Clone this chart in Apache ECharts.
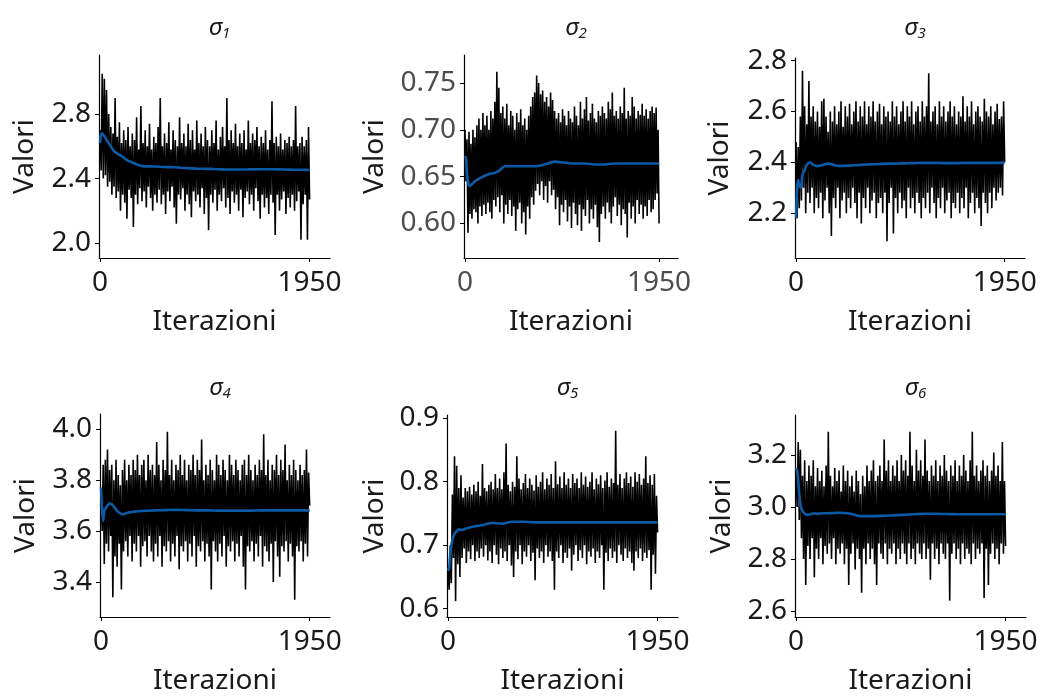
<!DOCTYPE html>
<html>
<head>
<meta charset="utf-8">
<script src="https://cdn.jsdelivr.net/npm/echarts@6/dist/echarts.min.js"></script>
<style>
html,body{margin:0;padding:0;background:#fff;}
#chart{width:1043px;height:696px;}
</style>
</head>
<body>
<div id="chart"></div>
<script>
// ---------- data ----------
const subscripts = ['1', '2', '3', '4', '5', '6'];
const xTickLabels = [0, 1950];
const lastIteration = 1950;

const yTicks1 = [2.0, 2.4, 2.8];
const yTicks2 = [0.60, 0.65, 0.70, 0.75];
const yTicks3 = [2.2, 2.4, 2.6, 2.8];
const yTicks4 = [3.4, 3.6, 3.8, 4.0];
const yTicks5 = [0.6, 0.7, 0.8, 0.9];
const yTicks6 = [2.6, 2.8, 3.0, 3.2];

// iterations at which the running mean was read
const meanIter = [0,10,20,30,45,60,80,100,130,160,200,250,300,350,400,500,600,700,800,900,1000,1100,1200,1300,1400,1500,1600,1700,1800,1950];

const mean1 = [2.62,2.68,2.68,2.67,2.66,2.64,2.62,2.60,2.57,2.555,2.54,2.515,2.50,2.485,2.477,2.475,2.472,2.47,2.465,2.462,2.46,2.458,2.456,2.456,2.457,2.458,2.458,2.456,2.455,2.454];
const mean2 = [0.672,0.670,0.652,0.645,0.640,0.641,0.643,0.645,0.647,0.649,0.651,0.653,0.654,0.657,0.661,0.661,0.661,0.661,0.663,0.666,0.665,0.664,0.664,0.663,0.663,0.664,0.664,0.664,0.664,0.664];
const mean3 = [2.18,2.30,2.33,2.31,2.30,2.35,2.37,2.39,2.40,2.39,2.385,2.39,2.395,2.39,2.386,2.387,2.39,2.392,2.394,2.395,2.396,2.397,2.398,2.398,2.397,2.397,2.398,2.398,2.398,2.398];
const mean4 = [3.77,3.68,3.64,3.68,3.69,3.70,3.708,3.705,3.69,3.675,3.665,3.672,3.676,3.678,3.679,3.681,3.682,3.683,3.682,3.681,3.681,3.680,3.680,3.680,3.680,3.681,3.681,3.681,3.681,3.681];
const mean5 = [0.660,0.665,0.685,0.700,0.712,0.718,0.722,0.725,0.724,0.726,0.728,0.730,0.731,0.733,0.735,0.734,0.737,0.737,0.736,0.736,0.736,0.736,0.736,0.736,0.736,0.736,0.736,0.736,0.736,0.736];
const mean6 = [3.15,3.14,3.10,3.05,3.00,2.985,2.975,2.970,2.972,2.975,2.974,2.976,2.976,2.977,2.978,2.975,2.965,2.965,2.966,2.968,2.970,2.972,2.974,2.974,2.973,2.972,2.972,2.972,2.972,2.972];

// thinned chain traces (one value every 10 iterations, 0..1950)
const trace1 = [
2.70,2.45,3.05,2.40,3.02,2.42,2.95,2.35,2.80,2.38,
2.72,2.30,2.68,2.35,2.90,2.28,2.66,2.32,2.75,2.20,
2.62,2.30,2.70,2.25,2.64,2.15,2.72,2.33,2.60,2.28,
2.68,2.10,2.64,2.30,2.78,2.24,2.58,2.34,2.85,2.26,
2.62,2.32,2.70,2.22,2.60,2.35,2.74,2.28,2.58,2.20,
2.66,2.30,2.62,2.25,2.72,2.33,2.90,2.24,2.60,2.30,
2.68,2.18,2.62,2.32,2.75,2.26,2.58,2.35,2.70,2.22,
2.64,2.12,2.60,2.30,2.78,2.27,2.62,2.34,2.68,2.20,
2.60,2.30,2.74,2.24,2.64,2.16,2.70,2.32,2.58,2.26,
2.76,2.30,2.62,2.22,2.68,2.34,2.60,2.18,2.72,2.28,
2.64,2.08,2.60,2.30,2.70,2.25,2.62,2.33,2.76,2.20,
2.58,2.30,2.66,2.26,2.72,2.34,2.60,2.22,2.90,2.28,
2.64,2.18,2.70,2.32,2.62,2.25,2.74,2.30,2.60,2.20,
2.68,2.33,2.62,2.16,2.70,2.28,2.58,2.32,2.76,2.24,
2.62,2.30,2.68,2.20,2.64,2.34,2.72,2.26,2.60,2.15,
2.66,2.30,2.62,2.22,2.70,2.28,2.58,2.18,2.64,2.30,
2.88,2.25,2.62,2.05,2.66,2.30,2.60,2.20,2.68,2.27,
2.58,2.32,2.64,2.18,2.62,2.28,2.66,2.22,2.60,2.30,
2.64,2.20,2.85,2.26,2.60,2.32,2.62,2.02,2.66,2.24,
2.60,2.30,2.64,2.02,2.72,2.27];
const trace2 = [
0.700,0.645,0.690,0.590,0.698,0.610,0.685,0.605,0.700,0.615,
0.692,0.612,0.705,0.600,0.712,0.618,0.700,0.608,0.718,0.620,
0.705,0.610,0.715,0.622,0.700,0.612,0.720,0.605,0.712,0.625,
0.730,0.618,0.762,0.628,0.745,0.612,0.718,0.630,0.725,0.600,
0.712,0.620,0.728,0.610,0.705,0.625,0.720,0.608,0.715,0.618,
0.700,0.592,0.718,0.615,0.708,0.622,0.722,0.600,0.705,0.612,
0.712,0.588,0.700,0.618,0.715,0.605,0.725,0.628,0.735,0.620,
0.740,0.635,0.758,0.642,0.750,0.630,0.738,0.645,0.742,0.625,
0.730,0.640,0.735,0.622,0.725,0.645,0.740,0.630,0.732,0.636,
0.720,0.615,0.712,0.628,0.718,0.598,0.708,0.620,0.722,0.612,
0.715,0.625,0.705,0.602,0.720,0.618,0.712,0.595,0.708,0.622,
0.725,0.610,0.715,0.598,0.705,0.620,0.730,0.592,0.712,0.615,
0.722,0.608,0.735,0.625,0.710,0.600,0.718,0.615,0.728,0.605,
0.712,0.620,0.708,0.596,0.720,0.580,0.715,0.610,0.725,0.618,
0.718,0.605,0.712,0.622,0.730,0.612,0.722,0.600,0.740,0.618,
0.715,0.628,0.720,0.608,0.712,0.620,0.725,0.598,0.718,0.615,
0.745,0.610,0.712,0.585,0.720,0.622,0.715,0.605,0.735,0.618,
0.725,0.600,0.712,0.625,0.720,0.610,0.716,0.620,0.728,0.605,
0.715,0.618,0.722,0.608,0.712,0.625,0.720,0.612,0.725,0.615,
0.718,0.625,0.724,0.632,0.700,0.600];
const trace3 = [
2.48,2.18,2.46,2.22,2.58,2.25,2.76,2.30,2.62,2.20,
2.55,2.28,2.72,2.24,2.58,2.30,2.62,2.20,2.56,2.26,
2.60,2.22,2.54,2.28,2.64,2.18,2.65,2.25,2.58,2.30,
2.52,2.20,2.60,2.11,2.56,2.26,2.62,2.22,2.55,2.30,
2.60,2.18,2.64,2.25,2.54,2.28,2.62,2.20,2.58,2.26,
2.63,2.22,2.55,2.30,2.60,2.24,2.64,2.18,2.56,2.28,
2.62,2.16,2.58,2.26,2.64,2.22,2.55,2.30,2.62,2.20,
2.58,2.25,2.64,2.28,2.56,2.18,2.60,2.24,2.63,2.26,
2.55,2.20,2.62,2.28,2.58,2.09,2.60,2.24,2.56,2.30,
2.64,2.12,2.58,2.26,2.62,2.20,2.55,2.28,2.60,2.22,
2.64,2.25,2.56,2.18,2.62,2.30,2.58,2.22,2.64,2.26,
2.55,2.20,2.60,2.28,2.62,2.24,2.56,2.18,2.64,2.26,
2.58,2.22,2.62,2.28,2.75,2.20,2.56,2.30,2.60,2.24,
2.62,2.18,2.55,2.26,2.64,2.22,2.58,2.30,2.62,2.20,
2.56,2.25,2.60,2.28,2.64,2.18,2.58,2.24,2.62,2.22,
2.55,2.28,2.60,2.20,2.58,2.26,2.66,2.22,2.56,2.30,
2.62,2.18,2.58,2.24,2.64,2.28,2.55,2.20,2.60,2.26,
2.62,2.22,2.58,2.15,2.56,2.28,2.65,2.24,2.60,2.20,
2.58,2.28,2.62,2.22,2.55,2.30,2.60,2.25,2.63,2.28,
2.57,2.30,2.58,2.27,2.64,2.40];
const trace4 = [
3.77,3.60,3.86,3.47,3.88,3.55,3.92,3.52,3.84,3.58,
3.86,3.34,3.80,3.50,3.88,3.46,3.82,3.55,3.78,3.37,
3.84,3.52,3.88,3.56,3.80,3.50,3.86,3.58,3.82,3.48,
3.88,3.55,3.84,3.52,3.90,3.58,3.82,3.46,3.86,3.54,
3.88,3.56,3.80,3.50,3.90,3.58,3.84,3.52,3.86,3.48,
3.82,3.55,3.95,3.50,3.86,3.58,3.80,3.46,3.88,3.54,
3.84,3.52,3.99,3.56,3.82,3.48,3.88,3.55,3.80,3.50,
3.86,3.58,3.84,3.45,3.90,3.54,3.82,3.52,3.88,3.56,
3.80,3.48,3.86,3.55,3.84,3.50,3.90,3.58,3.82,3.46,
3.88,3.54,3.84,3.52,3.96,3.56,3.80,3.48,3.86,3.55,
3.82,3.50,3.88,3.37,3.84,3.56,3.80,3.52,3.90,3.48,
3.86,3.55,3.82,3.50,3.88,3.58,3.84,3.46,3.80,3.54,
3.90,3.52,3.86,3.56,3.82,3.48,3.88,3.55,3.84,3.50,
3.80,3.58,3.86,3.46,3.88,3.37,3.82,3.54,3.90,3.52,
3.84,3.56,3.80,3.48,3.86,3.55,3.82,3.50,3.88,3.58,
3.84,3.46,3.98,3.54,3.82,3.52,3.88,3.48,3.80,3.55,
3.86,3.40,3.84,3.56,3.90,3.50,3.82,3.42,3.88,3.54,
3.84,3.52,3.94,3.56,3.80,3.48,3.86,3.55,3.82,3.50,
3.88,3.33,3.84,3.54,3.80,3.52,3.86,3.56,3.82,3.48,
3.84,3.55,3.92,3.50,3.83,3.70];
const trace5 = [
0.660,0.630,0.700,0.640,0.780,0.680,0.840,0.612,0.825,0.670,
0.790,0.650,0.810,0.680,0.775,0.695,0.790,0.672,0.785,0.690,
0.792,0.678,0.780,0.700,0.795,0.675,0.785,0.690,0.800,0.680,
0.778,0.695,0.828,0.682,0.790,0.700,0.785,0.676,0.795,0.690,
0.800,0.672,0.788,0.700,0.812,0.685,0.790,0.670,0.805,0.695,
0.788,0.680,0.815,0.690,0.860,0.675,0.795,0.700,0.785,0.668,
0.800,0.650,0.792,0.690,0.840,0.678,0.805,0.700,0.788,0.670,
0.798,0.690,0.812,0.682,0.790,0.700,0.805,0.675,0.795,0.688,
0.786,0.645,0.810,0.695,0.792,0.680,0.800,0.690,0.815,0.672,
0.788,0.700,0.805,0.682,0.795,0.690,0.812,0.675,0.790,0.630,
0.832,0.690,0.796,0.680,0.808,0.700,0.790,0.672,0.815,0.688,
0.795,0.680,0.805,0.695,0.790,0.660,0.812,0.685,0.798,0.700,
0.805,0.675,0.790,0.692,0.815,0.680,0.795,0.700,0.808,0.670,
0.792,0.690,0.800,0.682,0.815,0.695,0.788,0.672,0.805,0.690,
0.796,0.680,0.810,0.700,0.790,0.630,0.802,0.688,0.815,0.675,
0.792,0.695,0.805,0.680,0.798,0.690,0.880,0.672,0.795,0.700,
0.812,0.685,0.790,0.675,0.805,0.695,0.815,0.680,0.798,0.690,
0.808,0.672,0.792,0.660,0.815,0.690,0.800,0.680,0.812,0.695,
0.795,0.675,0.805,0.688,0.840,0.680,0.798,0.692,0.810,0.630,
0.795,0.685,0.812,0.655,0.778,0.720];
const trace6 = [
3.15,3.00,3.25,2.95,3.22,2.88,3.12,2.80,3.18,2.70,
3.10,2.85,3.16,2.80,3.12,2.88,3.18,2.73,3.08,2.84,
3.15,2.80,3.10,2.88,3.14,2.78,3.08,2.85,3.16,2.82,
3.29,2.86,3.12,2.80,3.08,2.88,3.15,2.78,3.10,2.84,
3.14,2.82,3.06,2.86,3.16,2.78,3.10,2.84,3.14,2.70,
3.08,2.82,3.12,2.86,3.06,2.76,3.14,2.84,3.10,2.80,
3.05,2.67,3.12,2.84,3.08,2.78,3.16,2.86,3.10,2.80,
3.14,2.84,3.18,2.78,3.10,2.70,3.12,2.86,3.16,2.82,
3.10,2.80,3.26,2.86,3.14,2.78,3.18,2.84,3.10,2.82,
3.16,2.86,3.12,2.78,3.18,2.84,3.10,2.80,3.20,2.86,
3.14,2.82,3.18,2.78,3.12,2.86,3.29,2.80,3.16,2.84,
3.10,2.78,3.22,2.86,3.14,2.82,3.18,2.80,3.12,2.86,
3.26,2.80,3.14,2.84,3.10,2.72,3.16,2.86,3.12,2.80,
3.18,2.84,3.10,2.78,3.16,2.86,3.12,2.82,3.20,2.80,
3.14,2.86,3.10,2.64,3.16,2.82,3.12,2.86,3.18,2.80,
3.10,2.84,3.16,2.78,3.12,2.86,3.20,2.80,3.14,2.84,
3.10,2.82,3.18,2.78,3.29,2.86,3.12,2.80,3.16,2.84,
3.10,2.82,3.14,2.86,3.18,2.65,3.12,2.84,3.16,2.70,
3.10,2.82,3.14,2.86,3.21,2.80,3.12,2.84,3.16,2.78,
3.10,2.86,3.25,2.82,3.10,2.85];

// ---------- layout / style ----------
const FONT = '"Noto Sans", "Open Sans", "DejaVu Sans", sans-serif';
const FS = 28;
const panels = [
  {grid:{left:99, top:55, width:231, height:203}, yMin:1.907, yMax:3.167, ticks:yTicks1, dec:1, trace:trace1, mean:mean1, labelColor:'#1a1a1a', nameGap:60},
  {grid:{left:464, top:55, width:214, height:203}, yMin:0.563, yMax:0.780, ticks:yTicks2, dec:2, trace:trace2, mean:mean2, labelColor:'#4d4d4d', nameGap:75},
  {grid:{left:795, top:58, width:230, height:200}, yMin:2.024, yMax:2.81, ticks:yTicks3, dec:1, trace:trace3, mean:mean3, labelColor:'#1a1a1a', nameGap:61},
  {grid:{left:100, top:414, width:230, height:203}, yMin:3.262, yMax:4.06, ticks:yTicks4, dec:1, trace:trace4, mean:mean4, labelColor:'#1a1a1a', nameGap:60},
  {grid:{left:447, top:415, width:231, height:202}, yMin:0.587, yMax:0.905, ticks:yTicks5, dec:1, trace:trace5, mean:mean5, labelColor:'#1a1a1a', nameGap:58},
  {grid:{left:795, top:415, width:231, height:202}, yMin:2.577, yMax:3.354, ticks:yTicks6, dec:1, trace:trace6, mean:mean6, labelColor:'#1a1a1a', nameGap:59}
];

const grids = [], xAxes = [], yAxes = [], series = [], titleList = [];
panels.forEach((p, k) => {
  grids.push(Object.assign({containLabel:false}, p.grid));
  xAxes.push({
    type:'value', gridIndex:k, min:-10, max:2140,
    name:'Iterazioni', nameLocation:'middle', nameGap:50,
    nameTextStyle:{fontFamily:FONT, fontSize:FS, color:'#1a1a1a'},
    axisLine:{show:true, onZero:false, lineStyle:{color:'#000', width:1.2}},
    axisTick:{show:true, length:4, lineStyle:{color:'#000'}, customValues:xTickLabels},
    axisLabel:{show:true, margin:11, fontFamily:FONT, fontSize:FS, color:p.labelColor, customValues:xTickLabels, formatter:v=>String(v)},
    splitLine:{show:false}
  });
  yAxes.push({
    type:'value', gridIndex:k, min:p.yMin, max:p.yMax,
    name:'Valori', nameLocation:'middle', nameGap:p.nameGap,
    nameTextStyle:{fontFamily:FONT, fontSize:FS, color:'#1a1a1a'},
    axisLine:{show:true, onZero:false, lineStyle:{color:'#000', width:1.2}},
    axisTick:{show:true, length:4, lineStyle:{color:'#000'}, customValues:p.ticks},
    axisLabel:{show:true, margin:8, fontFamily:FONT, fontSize:FS, color:p.labelColor, customValues:p.ticks, formatter:v=>Number(v).toFixed(p.dec)},
    splitLine:{show:false}
  });
  const n = p.trace.length;
  series.push({
    type:'line', xAxisIndex:k, yAxisIndex:k, showSymbol:false, symbol:'none',
    lineStyle:{color:'#000', width:1.6, join:'miter', miterLimit:2}, silent:true, z:2,
    data:p.trace.map((v,i)=>[Math.round(i*lastIteration/(n-1)), v])
  });
  series.push({
    type:'line', xAxisIndex:k, yAxisIndex:k, showSymbol:false, symbol:'none', smooth:0.3,
    lineStyle:{color:'#0b5aa6', width:2.6}, silent:true, z:3,
    data:p.mean.map((v,i)=>[meanIter[i], v])
  });
  titleList.push({
    text:'{s|σ}{d|' + subscripts[k] + '}',
    left:p.grid.left + p.grid.width/2, textAlign:'center',
    top: k < 3 ? 10 : 370,
    textStyle:{
      fontFamily:FONT, fontStyle:'italic', fontWeight:'normal', color:'#1a1a1a',
      rich:{
        s:{fontFamily:FONT, fontSize:24, fontStyle:'italic', fontWeight:'normal', color:'#1a1a1a', lineHeight:26},
        d:{fontFamily:FONT, fontSize:15, fontStyle:'italic', fontWeight:'normal', color:'#1a1a1a', lineHeight:15, verticalAlign:'bottom'}
      }
    }
  });
});

const chart = echarts.init(document.getElementById('chart'), null, {renderer:'canvas'});
chart.setOption({
  animation:false,
  backgroundColor:'#fff',
  title:titleList,
  grid:grids, xAxis:xAxes, yAxis:yAxes, series:series
});
</script>
</body>
</html>
